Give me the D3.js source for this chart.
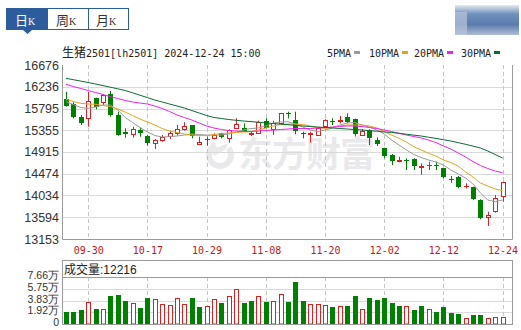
<!DOCTYPE html>
<html>
<head>
<meta charset="utf-8">
<script src="https://cdn.jsdelivr.net/npm/d3@7"></script>
<style>
body { margin: 0; background: #fff; }
svg { display: block; }
</style>
</head>
<body>
<div class="chart"></div>
<script>
// trading days shown on the daily chart
var dates = ['09-25','09-26','09-27','09-30','10-08','10-09','10-10','10-11','10-14','10-15',
  '10-16','10-17','10-18','10-21','10-22','10-23','10-24','10-25','10-28','10-29',
  '10-30','10-31','11-01','11-04','11-05','11-06','11-07','11-08','11-11','11-12',
  '11-13','11-14','11-15','11-18','11-19','11-20','11-21','11-22','11-25','11-26',
  '11-27','11-28','11-29','12-02','12-03','12-04','12-05','12-06','12-09','12-10',
  '12-11','12-12','12-13','12-16','12-17','12-18','12-19','12-20','12-23','12-24'];

var opens = [15981,15880,15629,15597,16002,15921,16083,15664,15325,15273,
  15360,15238,15090,15157,15238,15305,15374,15461,15090,15170,
  15191,15293,15206,15394,15394,15293,15306,15549,15394,15496,
  15698,15563,15300,15285,15258,15441,15536,15550,15617,15576,
  15273,15360,15157,14989,14854,14732,14760,14766,14610,14650,
  14660,14585,14370,14402,14220,14200,13943,13592,13706,14010];
var highs = [16135,15921,15663,16135,16014,16083,16149,15730,15394,15427,
  15406,15259,15177,15259,15346,15461,15516,15461,15225,15225,
  15293,15305,15374,15597,15495,15326,15549,15597,15549,15698,
  15730,15730,15326,15326,15427,15576,15597,15644,15698,15590,
  15380,15374,15212,15002,14874,14820,14787,14787,14685,14719,
  14719,14597,14428,14428,14280,14213,13957,13706,14043,14314];
var lows = [15832,15596,15461,15427,15779,15866,15629,15245,15204,15204,
  15224,15042,14975,15123,15177,15245,15346,15191,15056,15042,
  15171,15191,15103,15380,15326,15238,15293,15394,15258,15461,
  15596,15273,15191,15103,15258,15427,15461,15495,15496,15230,
  15238,15056,15036,14787,14651,14705,14550,14550,14450,14550,
  14550,14382,14293,14179,14179,13943,13552,13416,13686,13908];
var closes = [15846,15609,15515,15947,15811,16068,15650,15259,15291,15380,
  15293,15090,15157,15225,15305,15380,15441,15245,15123,15150,
  15258,15212,15360,15481,15326,15306,15528,15414,15508,15698,
  15684,15340,15285,15300,15394,15563,15520,15563,15508,15279,
  15346,15191,15076,14820,14732,14746,14750,14617,14625,14660,
  14630,14402,14360,14200,14226,13957,13572,13639,13976,14301];

// moving averages as drawn on the chart
var ma5 = [15933,15876,15815,15799,15825,15866,15866,15765,15613,15511,
  15410,15319,15248,15218,15224,15238,15258,15279,15268,15258,
  15258,15258,15279,15319,15360,15390,15400,15441,15501,15522,
  15528,15481,15420,15360,15329,15360,15400,15461,15501,15511,
  15461,15420,15360,15279,15157,15056,14955,14863,14803,14752,
  14712,14651,14550,14469,14388,14266,14084,13942,13908,13942];
var ma10 = [15981,15937,15900,15886,15880,15856,15831,15785,15724,15653,
  15582,15522,15461,15390,15339,15309,15279,15258,15248,15244,
  15268,15289,15299,15309,15319,15325,15360,15400,15441,15471,
  15481,15481,15471,15441,15410,15394,15410,15441,15461,15461,
  15461,15441,15400,15325,15258,15191,15116,15021,14955,14888,
  14833,14752,14701,14630,14509,14408,14286,14225,14165,14130];
var ma20 = [16285,16240,16200,16159,16119,16078,16034,15997,15957,15927,
  15906,15886,15846,15795,15734,15663,15613,15562,15501,15441,
  15400,15370,15349,15339,15329,15329,15339,15349,15360,15370,
  15380,15390,15390,15390,15400,15410,15420,15430,15441,15441,
  15430,15410,15390,15360,15329,15293,15258,15228,15198,15157,
  15106,15036,14975,14894,14813,14722,14641,14580,14529,14495];
var ma30 = [16406,16378,16350,16321,16291,16259,16226,16194,16159,16113,
  16064,16016,15967,15927,15886,15846,15805,15754,15704,15653,
  15613,15592,15572,15556,15542,15530,15517,15503,15491,15479,
  15467,15453,15441,15430,15420,15410,15400,15390,15380,15370,
  15360,15347,15335,15321,15309,15293,15274,15256,15238,15214,
  15189,15163,15137,15104,15070,15034,14995,14934,14863,14792];

var volumes = [20000,20000,23500,36000,25000,24500,46000,47500,38000,34500,
  27000,43000,41000,33000,31500,42500,33000,42500,28500,29500,
  41000,35000,46000,57500,35000,38000,45500,36500,38000,50000,
  36500,69000,38000,32000,32000,30500,28000,29500,29500,46000,
  24500,42500,39500,42500,34500,29500,29000,23000,29500,24500,
  19500,28000,18000,16500,10000,15000,15000,10000,11500,12216];
var volUp = [0,0,0,1,0,1,0,0,0,1, 0,0,1,1,1,1,1,0,0,1,
  1,0,1,1,0,0,1,0,1,1, 0,0,0,1,1,1,0,1,0,0,
  1,0,0,0,0,0,1,0,0,1, 0,0,0,0,1,0,0,1,1,1];

var priceTicks = [16676,16236,15795,15355,14915,14474,14034,13594,13153];
var dateTicks = ['09-30','10-17','10-29','11-08','11-20','12-02','12-12','12-24'];
var volTicks = [0,19150,38300,57450,76600];
var volTickLabels = ['0','1.92万','3.83万','5.75万','7.66万'];

var maNames = ['5PMA','10PMA','20PMA','30PMA'];
var maColors = ['#9a9a9a','#e8a31c','#ee22ee','#0b6b35'];

var UP = '#e02020', DOWN = '#008000', BLUE = '#2d5c9d';
var MONO = '"DejaVu Sans Mono","Noto Sans CJK SC",monospace';
var SANS = '"Liberation Sans","Noto Sans CJK SC",sans-serif';

var chart = { left: 62, right: 512, top: 65, bottom: 239, volTop: 260, volHead: 277, volBottom: 324 };

var svg = d3.select('.chart').append('svg')
  .attr('width', 521)
  .attr('height', 330);

var x = d3.scalePoint().domain(dates).range([66, 502.6]);
var y = d3.scaleLinear().domain([13153, 16676]).range([chart.bottom, chart.top]);
var yv = d3.scaleLinear().domain([0, 76600]).range([chart.volBottom, 277.3]);

var px = function(i){ return Math.round(x(dates[i])); };

// tabs
var tabs = svg.append('g');
tabs.append('rect').attr('x', 6.5).attr('y', 8.5).attr('width', 122).attr('height', 21)
  .attr('fill', '#fff').attr('stroke', BLUE);
tabs.append('rect').attr('x', 6).attr('y', 8).attr('width', 42).attr('height', 22).attr('fill', BLUE);
tabs.append('path').attr('d', 'M23,30 L32,30 L27.5,34 Z').attr('fill', BLUE);
tabs.append('line').attr('x1', 88.5).attr('x2', 88.5).attr('y1', 8).attr('y2', 30).attr('stroke', BLUE);
[['日', 15, '#fff'], ['周', 56, '#333'], ['月', 96, '#333']].forEach(function(t){
  var tx = tabs.append('text').attr('x', t[1]).attr('y', 24.5).attr('fill', t[2])
    .style('font-family', SANS).style('font-size', '13px');
  tx.append('tspan').text(t[0]);
  tx.append('tspan').style('font-family', '"Liberation Serif",serif').style('font-size', '10px').text('K');
});

// blurred badge top right
var grad = svg.append('defs').append('linearGradient').attr('id', 'badge')
  .attr('x1', 0).attr('x2', 0).attr('y1', 0).attr('y2', 1);
grad.append('stop').attr('offset', '0').attr('stop-color', '#e6eaf1');
grad.append('stop').attr('offset', '0.3').attr('stop-color', '#7090bd');
grad.append('stop').attr('offset', '0.65').attr('stop-color', '#5b7bad');
grad.append('stop').attr('offset', '1').attr('stop-color', '#aebdd5');
svg.append('rect').attr('x', 455).attr('y', 5).attr('width', 64).attr('height', 30).attr('fill', 'url(#badge)');
svg.append('rect').attr('x', 455).attr('y', 12).attr('width', 12).attr('height', 23).attr('fill', '#b9c6dc').attr('opacity', 0.7);

// title and legend
var title = svg.append('text').attr('x', 62).attr('y', 57).attr('fill', '#222')
  .style('font-family', MONO).style('font-size', '10px');
title.append('tspan').style('font-size', '12px').style('font-family', SANS).text('生猪');
title.append('tspan').text('2501[lh2501] 2024-12-24 15:00');

var legendX = [327, 369, 414, 461];
maNames.forEach(function(name, i){
  svg.append('text').attr('x', legendX[i]).attr('y', 56.5).attr('fill', '#222')
    .style('font-family', MONO).style('font-size', '10px').text(name);
  svg.append('rect').attr('x', legendX[i] + name.length * 6 + 3).attr('y', 51)
    .attr('width', 6).attr('height', 3).attr('fill', maColors[i]);
});

// watermark
var wm = svg.append('g').attr('fill', '#e9e9ec');
wm.append('path')
  .attr('transform', 'translate(220,155)')
  .attr('d', d3.arc().innerRadius(8).outerRadius(14).startAngle(0.9).endAngle(5.9)());
wm.append('path').attr('d', 'M212,150 L228,143 L226,149 L214,156 Z');
wm.append('text').attr('x', 238).attr('y', 167).attr('letter-spacing', -1)
  .style('font-family', '"Noto Sans CJK SC"').style('font-weight', 'bold').style('font-size', '35px')
  .text('东方财富');

// grid
svg.append('g').selectAll('line.h')
  .data(priceTicks.slice(1, -1))
  .enter().append('line')
  .attr('x1', chart.left).attr('x2', chart.right)
  .attr('y1', function(d){ return Math.round(y(d)) + 0.5; })
  .attr('y2', function(d){ return Math.round(y(d)) + 0.5; })
  .attr('stroke', '#d9d9d9');

svg.append('g').selectAll('line.v')
  .data(dateTicks)
  .enter().append('line')
  .attr('x1', function(d){ return Math.round(x(d)) + 0.5; })
  .attr('x2', function(d){ return Math.round(x(d)) + 0.5; })
  .attr('y1', chart.top).attr('y2', chart.bottom)
  .attr('stroke', '#c4c4c4').attr('stroke-dasharray', '4,3');

// price axis labels
svg.append('g').selectAll('text')
  .data(priceTicks)
  .enter().append('text')
  .attr('x', 59).attr('y', function(d){ return y(d) + 4.5; })
  .attr('text-anchor', 'end').attr('fill', '#333')
  .style('font-family', SANS).style('font-size', '12.5px')
  .text(function(d){ return d; });

// date labels
svg.append('g').selectAll('text')
  .data(dateTicks)
  .enter().append('text')
  .attr('x', function(d){ return x(d) + 0.5; }).attr('y', 254)
  .attr('text-anchor', 'middle').attr('fill', '#c81414')
  .style('font-family', MONO).style('font-size', '10px')
  .text(function(d){ return d; });

// candles
var candles = svg.append('g').selectAll('g')
  .data(d3.range(dates.length))
  .enter().append('g');

candles.append('line')
  .attr('x1', function(i){ return px(i) + 0.5; })
  .attr('x2', function(i){ return px(i) + 0.5; })
  .attr('y1', function(i){ return y(highs[i]); })
  .attr('y2', function(i){ return y(lows[i]); })
  .attr('stroke', function(i){ return closes[i] >= opens[i] ? UP : DOWN; });

candles.append('rect')
  .attr('x', function(i){ return closes[i] >= opens[i] ? px(i) - 1.5 : px(i) - 2; })
  .attr('width', function(i){ return closes[i] >= opens[i] ? 4 : 5; })
  .attr('y', function(i){ return Math.round(y(Math.max(opens[i], closes[i]))) + (closes[i] >= opens[i] ? 0.5 : 0); })
  .attr('height', function(i){
    var h = Math.round(Math.abs(y(opens[i]) - y(closes[i])));
    return closes[i] >= opens[i] ? Math.max(h, 0.01) : Math.max(h, 1);
  })
  .attr('fill', function(i){ return closes[i] >= opens[i] ? '#fff' : DOWN; })
  .attr('stroke', function(i){ return closes[i] >= opens[i] ? UP : 'none'; });

// moving averages
[ma5, ma10, ma20, ma30].forEach(function(ma, k){
  svg.append('path')
    .datum(ma)
    .attr('fill', 'none')
    .attr('stroke', maColors[k])
    .attr('stroke-width', 1)
    .attr('d', d3.line()
      .x(function(d, i){ return x(dates[i]); })
      .y(function(d){ return y(d); }));
});

// price frame
svg.append('path')
  .attr('d', 'M' + (chart.left + 0.5) + ',' + chart.top + ' V' + (chart.bottom + 0.5) +
    ' H' + (chart.right + 0.5) + ' V' + chart.top)
  .attr('fill', 'none').attr('stroke', '#9a9a9a');

// volume panel
var vol = svg.append('g');
vol.selectAll('line.h')
  .data(volTicks.slice(1, -1))
  .enter().append('line')
  .attr('x1', chart.left).attr('x2', chart.right)
  .attr('y1', function(d){ return Math.round(yv(d)) + 0.5; })
  .attr('y2', function(d){ return Math.round(yv(d)) + 0.5; })
  .attr('stroke', '#d9d9d9');

vol.selectAll('line.v')
  .data(dateTicks)
  .enter().append('line')
  .attr('x1', function(d){ return Math.round(x(d)) + 0.5; })
  .attr('x2', function(d){ return Math.round(x(d)) + 0.5; })
  .attr('y1', chart.volHead).attr('y2', chart.volBottom)
  .attr('stroke', '#c4c4c4').attr('stroke-dasharray', '4,3');

vol.selectAll('rect.bar')
  .data(volumes)
  .enter().append('rect')
  .attr('x', function(d, i){ return volUp[i] ? px(i) - 1.5 : px(i) - 2; })
  .attr('width', function(d, i){ return volUp[i] ? 4 : 5; })
  .attr('y', function(d, i){ return Math.round(yv(d)) + (volUp[i] ? 0.5 : 0); })
  .attr('height', function(d, i){ return chart.volBottom - Math.round(yv(d)) - (volUp[i] ? 0.5 : 0); })
  .attr('fill', function(d, i){ return volUp[i] ? '#fff' : DOWN; })
  .attr('stroke', function(d, i){ return volUp[i] ? UP : 'none'; });

vol.append('rect')
  .attr('x', chart.left + 0.5).attr('y', chart.volTop + 0.5)
  .attr('width', chart.right - chart.left).attr('height', chart.volBottom - chart.volTop)
  .attr('fill', 'none').attr('stroke', '#9a9a9a');
vol.append('line')
  .attr('x1', chart.left).attr('x2', chart.right)
  .attr('y1', chart.volHead + 0.5).attr('y2', chart.volHead + 0.5)
  .attr('stroke', '#9a9a9a');

vol.append('text').attr('x', 64).attr('y', 273.5).attr('fill', '#222')
  .style('font-family', SANS).style('font-size', '12px')
  .text('成交量:' + volumes[volumes.length - 1]);

// tightly stacked labels: slightly smaller so they do not collide
vol.selectAll('text.lab')
  .data(volTicks)
  .enter().append('text')
  .attr('x', 59).attr('y', function(d){ return yv(d) + 2; })
  .attr('text-anchor', 'end').attr('fill', '#333')
  .style('font-family', '"Liberation Sans",sans-serif').style('font-size', '10.5px')
  .text(function(d, i){ return volTickLabels[i]; });
</script>
</body>
</html>
